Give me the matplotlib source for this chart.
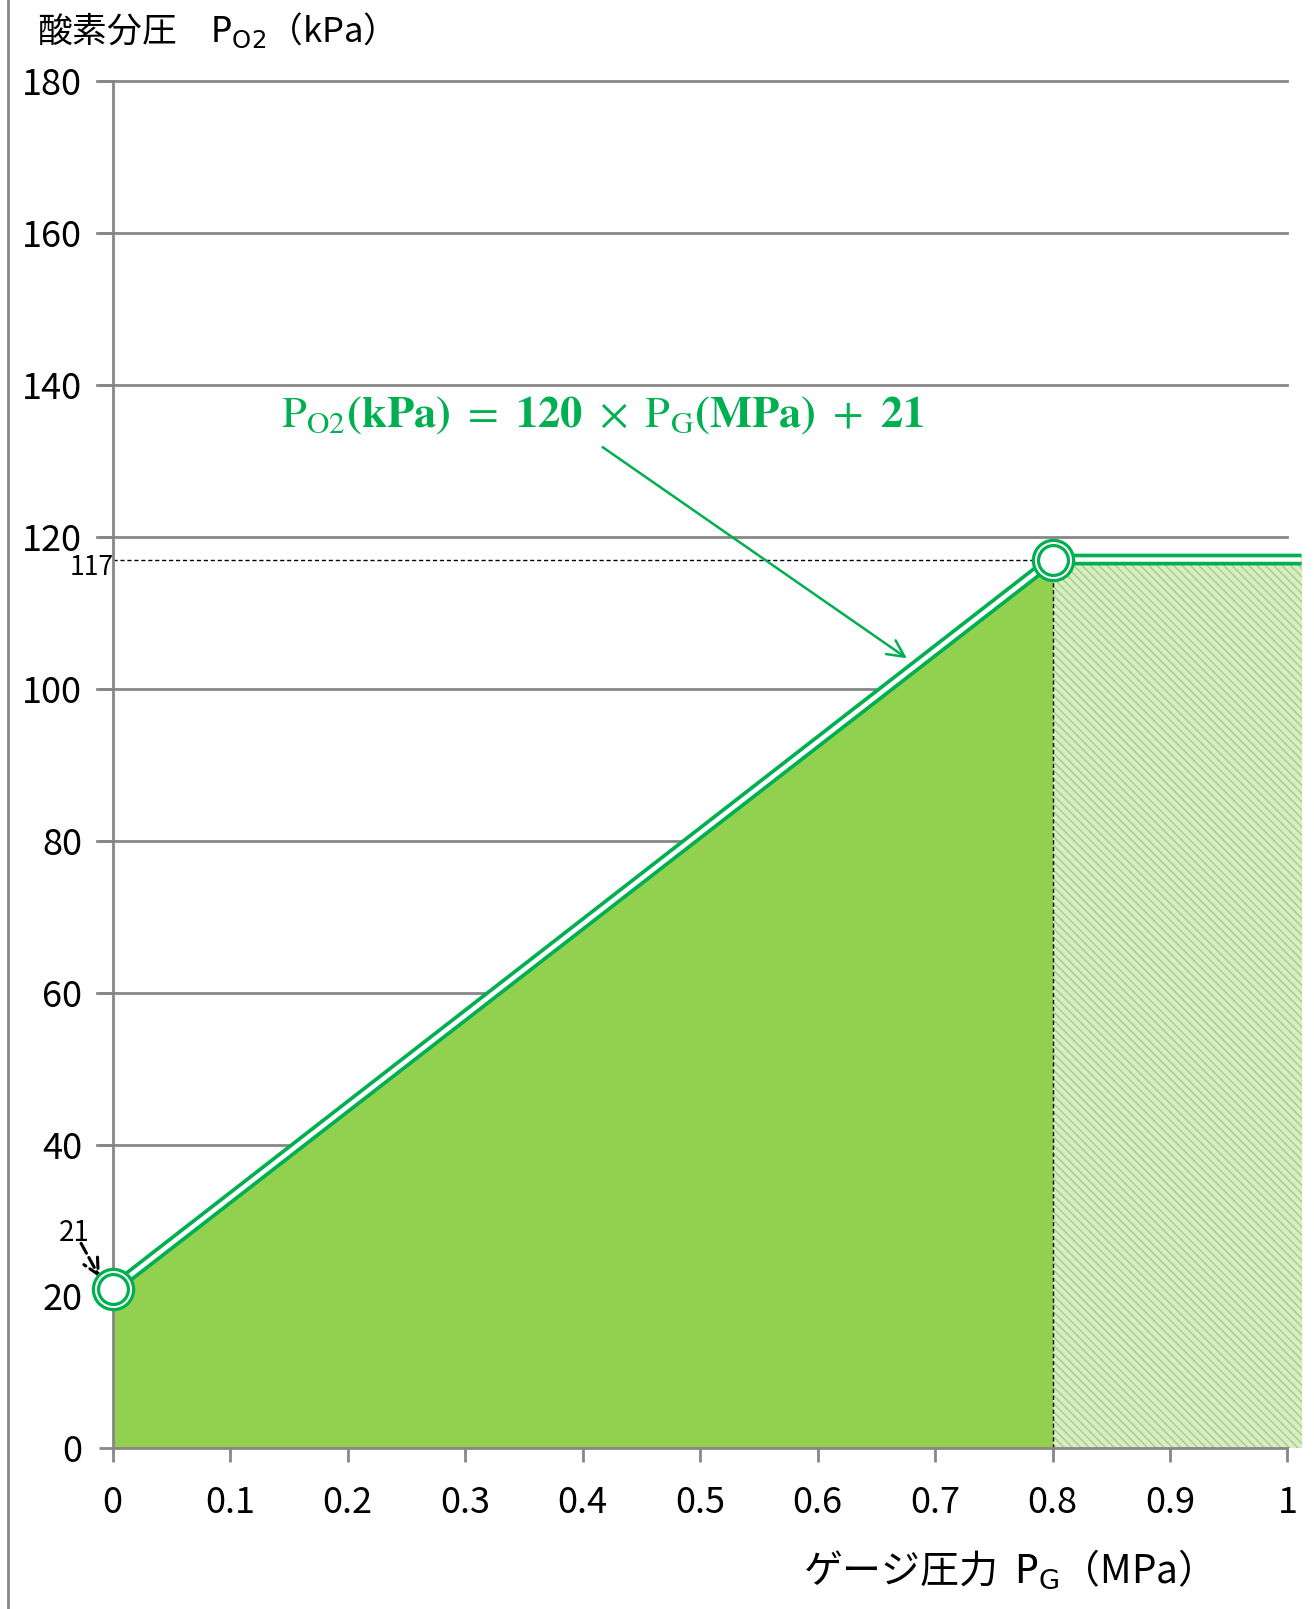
import matplotlib
matplotlib.use("Agg")
import matplotlib.pyplot as plt
from matplotlib.lines import Line2D

plt.rcParams['font.family'] = ['Noto Sans CJK JP', 'DejaVu Sans']
plt.rcParams['hatch.linewidth'] = 1.0
plt.rcParams['hatch.color'] = '#a8c98e'

# data
pg = [0.0, 0.8]
po2 = [21, 117]
pg_flat = [0.8, 1.012]
po2_flat = [117, 117]
xticks = [0, 0.1, 0.2, 0.3, 0.4, 0.5, 0.6, 0.7, 0.8, 0.9, 1.0]
xticklabels = ['0', '0.1', '0.2', '0.3', '0.4', '0.5', '0.6', '0.7', '0.8', '0.9', '1']
yticks = [0, 20, 40, 60, 80, 100, 120, 140, 160, 180]

GREEN = '#00B050'
FILL = '#92D050'
GRID = '#878787'

fig = plt.figure(figsize=(13.14, 16.09), dpi=100)
ax = fig.add_axes([0.0858, 0.0998, 0.894, 0.8499])
ax.set_xlim(0, 1)
ax.set_ylim(0, 180)

# gridlines (extend to the left like ticks)
for y in yticks[1:]:
    ax.plot([-0.013, 1], [y, y], color=GRID, lw=2, clip_on=False, zorder=1)

# fills
ax.fill_between(pg, po2, 0, color=FILL, lw=0, zorder=2)
ax.fill_between(pg_flat, po2_flat, 0, facecolor='#d8eec0', edgecolor='#a8c98e',
                hatch='\\\\\\\\', lw=0, zorder=2, clip_on=False)

# dashed guides
ax.plot([0, 0.8], [117, 117], color='black', lw=1, ls=(0, (3, 2)), zorder=3)
ax.plot([0.8, 0.8], [0, 117], color='black', lw=1, ls=(0, (3, 2)), zorder=3)

# double line
xs = pg + pg_flat[1:]
ys = po2 + po2_flat[1:]
ax.plot(xs, ys, color=GREEN, lw=8.5, solid_joinstyle='miter', solid_capstyle='butt',
        zorder=4, clip_on=False)
ax.plot(xs, ys, color='white', lw=3.2, solid_joinstyle='miter', solid_capstyle='butt',
        zorder=5, clip_on=False)

# markers (double ring)
ax.plot(pg, po2, 'o', ms=29, mfc='white', mec=GREEN, mew=2.3, zorder=6, clip_on=False)
ax.plot(pg, po2, 'o', ms=21.5, mfc='white', mec=GREEN, mew=2.3, zorder=7, clip_on=False)

# spines / ticks
for s in ['top', 'right']:
    ax.spines[s].set_visible(False)
for s in ['left', 'bottom']:
    ax.spines[s].set_color(GRID)
    ax.spines[s].set_linewidth(2)
    ax.spines[s].set_zorder(3)
ax.set_xticks(xticks)
ax.set_xticklabels(xticklabels)
ax.set_yticks(yticks)
ax.tick_params(axis='both', colors=GRID, width=2, length=10, labelcolor='black',
               labelsize=26)
ax.tick_params(axis='x', pad=16)
ax.tick_params(axis='y', pad=12)

# annotations
ax.text(0.001, 116, '117', fontsize=19, ha='right', va='center')
ax.text(-0.033, 28.3, '21', fontsize=20, ha='center', va='center')
ax.annotate('', xy=(-0.011, 22.5), xytext=(-0.027, 27.0), annotation_clip=False,
            arrowprops=dict(arrowstyle='->', color='black', lw=2.2, ls='--',
                            shrinkA=0, shrinkB=0, mutation_scale=28))
ax.annotate('', xy=(0.676, 104), xytext=(0.417, 131.8),
            arrowprops=dict(arrowstyle='->', color=GREEN, lw=1.8,
                            shrinkA=0, shrinkB=0, mutation_scale=30))
ax.text(0.143, 136.2,
        r'$\mathrm{P}_{\mathrm{O2}}\mathbf{(kPa)}\ =\ \mathbf{120}\ \times\ \mathrm{P}_{\mathrm{G}}\mathbf{(MPa)}\ +\ \mathbf{21}$',
        color=GREEN, fontsize=32, math_fontfamily='stix', ha='left', va='center')

# axis titles
fig.text(0.028, 0.981, '酸素分圧　$\\mathsf{P_{O2}}$（kPa）', fontsize=25,
         ha='left', va='center', math_fontfamily='dejavusans')
fig.text(0.611, 0.024, 'ゲージ圧力  $\\mathsf{P_G}$（MPa）', fontsize=28,
         ha='left', va='center', math_fontfamily='dejavusans')

# left border line
fig.add_artist(Line2D([0.006, 0.006], [0, 1], color=GRID, lw=2))

fig.savefig('out.png', dpi=100)
